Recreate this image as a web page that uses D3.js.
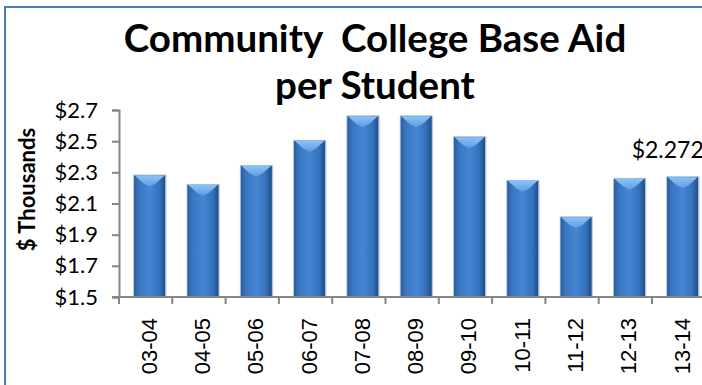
<!DOCTYPE html>
<html>
<head>
<meta charset="utf-8">
<script src="https://cdn.jsdelivr.net/npm/d3@7"></script>
<style>
  body { margin: 0; background: #fff; }
  svg { display: block; }
</style>
</head>
<body>
<div id="chart"></div>
<script>
// fiscal years and base aid per student ($ thousands)
var years = ["03-04", "04-05", "05-06", "06-07", "07-08", "08-09", "09-10", "10-11", "11-12", "12-13", "13-14"];
var aid = [2.283, 2.223, 2.345, 2.506, 2.663, 2.663, 2.529, 2.249, 2.015, 2.262, 2.272];
var yTicks = [1.5, 1.7, 1.9, 2.1, 2.3, 2.5, 2.7];
var titleLines = ["Community  College Base Aid", "per Student"];
var labelIdx = 10; // only the last bar carries a value label

var W = 702, H = 385;
var margin = {top: 110, left: 119, bottom: 88};
var plotH = H - margin.top - margin.bottom;   // 187
var band = 53.3;

var svg = d3.select("#chart").append("svg")
    .attr("width", W)
    .attr("height", H);

var defs = svg.append("defs");
var g1 = defs.append("linearGradient").attr("id", "barGrad")
    .attr("x1", "0").attr("x2", "1").attr("y1", "0").attr("y2", "0");
g1.append("stop").attr("offset", "0%").attr("stop-color", "#2a5b98");
g1.append("stop").attr("offset", "18%").attr("stop-color", "#3a76c2");
g1.append("stop").attr("offset", "50%").attr("stop-color", "#4586d4");
g1.append("stop").attr("offset", "80%").attr("stop-color", "#3672bc");
g1.append("stop").attr("offset", "100%").attr("stop-color", "#1e4a82");
var g2 = defs.append("linearGradient").attr("id", "capGrad")
    .attr("x1", "0").attr("x2", "0").attr("y1", "0").attr("y2", "1");
g2.append("stop").attr("offset", "0%").attr("stop-color", "#8cc2f5");
g2.append("stop").attr("offset", "100%").attr("stop-color", "#5d9ce3");

// frame
svg.append("rect")
    .attr("x", 5).attr("y", 7)
    .attr("width", W + 10).attr("height", H + 10)
    .attr("fill", "none")
    .attr("stroke", "#4a7ebb")
    .attr("stroke-width", 2);

var x = d3.scaleBand()
    .domain(years)
    .range([margin.left + 4, margin.left + 4 + band * years.length])
    .paddingInner(0.4)
    .paddingOuter(0.2);

var y = d3.scaleLinear()
    .domain([1.5, 2.7])
    .range([margin.top + plotH, margin.top]);

// title
svg.append("g").selectAll("text")
    .data(titleLines)
    .enter().append("text")
    .attr("x", 375)
    .attr("y", function(d, i) { return 52 + i * 47; })
    .attr("text-anchor", "middle")
    .attr("font-family", "Lato, sans-serif")
    .attr("font-weight", "bold")
    .attr("font-size", "38.5px")
    .attr("xml:space", "preserve")
    .style("white-space", "pre")
    .text(function(d) { return d; });

// bars
var bars = svg.append("g").selectAll("g")
    .data(aid)
    .enter().append("g");

bars.append("rect")
    .attr("x", function(d, i) { return x(years[i]) + 1; })
    .attr("y", function(d) { return y(d); })
    .attr("width", x.bandwidth())
    .attr("height", function(d) { return y(1.5) - y(d); })
    .attr("fill", "#9fb8d8")
    .attr("opacity", 0.6);

bars.append("rect")
    .attr("x", function(d, i) { return x(years[i]); })
    .attr("y", function(d) { return y(d); })
    .attr("width", x.bandwidth())
    .attr("height", function(d) { return y(1.5) - y(d); })
    .attr("fill", "url(#barGrad)")
    .attr("stroke", "#b9cfe8")
    .attr("stroke-width", 0.8);

bars.append("path")
    .attr("d", function(d, i) {
        var x0 = x(years[i]) + 1, w = x.bandwidth() - 2, t = y(d) + 0.5;
        return "M" + x0 + "," + t + "L" + (x0 + w) + "," + t +
            "L" + (x0 + w * 0.7) + "," + (t + 8) + "L" + (x0 + w * 0.5) + "," + (t + 11) +
            "L" + (x0 + w * 0.3) + "," + (t + 8) + "Z";
    })
    .attr("fill", "url(#capGrad)");

// value label (cut by the right edge, as in the source)
svg.append("text")
    .attr("x", x(years[labelIdx]) + x.bandwidth() / 2 - 51)
    .attr("y", y(aid[labelIdx]) - 19)
    .attr("font-family", "Lato, sans-serif")
    .attr("font-size", "23px")
    .text("$" + d3.format(".3f")(aid[labelIdx]));

// y axis
var yAxis = svg.append("g")
    .attr("transform", "translate(" + margin.left + ",0)")
    .call(d3.axisLeft(y).tickValues(yTicks)
        .tickSize(7).tickPadding(14)
        .tickFormat(function(d) { return "$" + d3.format(".1f")(d); }));
yAxis.select(".domain").attr("stroke", "#868686").attr("stroke-width", 2);
yAxis.selectAll(".tick line").attr("stroke", "#868686").attr("stroke-width", 2);
yAxis.selectAll("text")
    .attr("font-family", "Lato, sans-serif")
    .attr("font-size", "22px")
    .attr("fill", "#000");

// x axis: ticks sit on band edges
var xAxis = svg.append("g")
    .attr("transform", "translate(0," + y(1.5) + ")");
xAxis.append("line")
    .attr("x1", margin.left - 7).attr("x2", W)
    .attr("stroke", "#868686").attr("stroke-width", 2);
xAxis.selectAll("line.tk")
    .data(years)
    .enter().append("line")
    .attr("class", "tk")
    .attr("x1", function(d, i) { return margin.left + i * band; })
    .attr("x2", function(d, i) { return margin.left + i * band; })
    .attr("y1", 0).attr("y2", 7)
    .attr("stroke", "#868686").attr("stroke-width", 2);
xAxis.selectAll("text")
    .data(years)
    .enter().append("text")
    .attr("transform", function(d) {
        return "translate(" + (x(d) + x.bandwidth() / 2 + 7) + ",21) rotate(-90)";
    })
    .attr("text-anchor", "end")
    .attr("font-family", "Liberation Sans, Arial, sans-serif")
    .attr("font-size", "22px")
    .text(function(d) { return d; });

// y axis title
svg.append("text")
    .attr("transform", "translate(35," + (margin.top + plotH / 2 - 14) + ") rotate(-90)")
    .attr("text-anchor", "middle")
    .attr("font-family", "Lato, sans-serif")
    .attr("font-weight", "bold")
    .attr("font-size", "22px")
    .text("$ Thousands");
</script>
</body>
</html>
